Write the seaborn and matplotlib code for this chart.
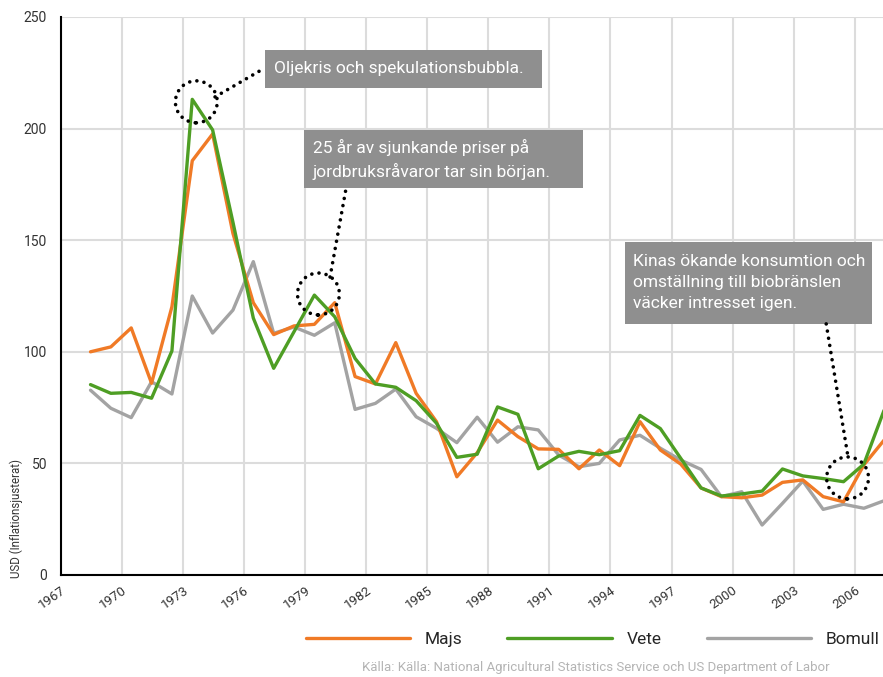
import numpy as np
import pandas as pd
import matplotlib
matplotlib.use('Agg')
import matplotlib.pyplot as plt
from matplotlib.patches import Ellipse, Rectangle
import seaborn as sns

# data (USD, inflation adjusted)
years = list(range(1968, 2008))
majs = [100, 102.2, 110.7, 85.9, 120.2, 185.6, 197.6, 153, 122, 107.7,
        111.6, 112.3, 122, 88.9, 85.6, 104.1, 81.4, 68.7, 44, 54.8,
        69.4, 62, 56.5, 56.3, 47.6, 56, 49, 68.7, 56, 49.7,
        39, 35.1, 34.6, 35.8, 41.5, 42.6, 35.1, 32.8, 49.3, 60.5]
vete = [85.3, 81.4, 81.8, 79.2, 100.4, 213.1, 199.4, 158, 115.1, 92.6,
        109, 125.4, 115.7, 97, 85.6, 84.1, 78.1, 68, 52.7, 54.1,
        75.3, 72, 47.6, 53.3, 55.4, 53.9, 55.7, 71.5, 65.6, 52.3,
        39, 35.4, 36.3, 37.6, 47.5, 44.4, 43.2, 41.8, 49.7, 74]
bomull = [82.8, 74.7, 70.5, 86.6, 81.1, 125, 108.4, 118.7, 140.4, 108.3,
          111.1, 107.4, 113, 74.2, 76.9, 83.3, 70.9, 65.7, 59.3, 70.7,
          59.5, 66.4, 65, 53.8, 48.5, 50, 60.5, 62.6, 56.8, 51.5,
          47.3, 35.1, 37.3, 22.4, 32.1, 42.1, 29.4, 31.7, 29.9, 33.3]
tick_years = list(range(1967, 2007, 3))

df = pd.DataFrame({'År': years, 'Majs': majs, 'Vete': vete, 'Bomull': bomull})
df = df.melt(id_vars='År', var_name='Gröda', value_name='USD')

colors = {'Majs': '#f07a26', 'Vete': '#4e9e24', 'Bomull': '#a3a3a3'}

sns.set_style('white')
plt.rcParams['font.family'] = ['Roboto', 'DejaVu Sans']

fig = plt.figure(figsize=(8.83, 6.77), dpi=100)
ax = fig.add_axes([61 / 883, 1 - 575 / 677, 1 - 61 / 883, 558 / 677])

# gray first, green on top
for name in ['Bomull', 'Majs', 'Vete']:
    sns.lineplot(data=df[df['Gröda'] == name], x='År', y='USD', color=colors[name],
                 lw=2.4, ax=ax, label=name, legend=False)

ax.set_xlim(1966.55, 2006.94)
ax.set_ylim(0, 250)
ax.set_xticks(np.array(tick_years) - 0.45)
ax.set_xticklabels([str(y) for y in tick_years], rotation=35, ha='right', va='top',
                   rotation_mode='anchor', fontsize=9.5, color='#333333')
ax.set_yticks([0, 50, 100, 150, 200, 250])
ax.tick_params(axis='y', labelsize=10, length=8, width=1.5, color='#dcdcdc', pad=2,
               labelcolor='#333333')
ax.tick_params(axis='x', length=0, pad=6)
ax.grid(True, color='#dcdcdc', lw=1.5)
ax.set_axisbelow(True)
ax.set_xlabel('')
ax.set_ylabel('')
for s in ['top', 'right']:
    ax.spines[s].set_visible(False)
for s in ['left', 'bottom']:
    ax.spines[s].set_color('black')
    ax.spines[s].set_linewidth(1.5)

fig.text(16 / 883, 0.146, 'USD (Inflationsjusterat)', rotation=90, ha='center',
         va='bottom', fontsize=8.3, color='#333333')

# annotations
box_col = '#8f8f8f'
dot = dict(color='black', lw=2.6, linestyle=(0, (0.01, 2.0)), dash_capstyle='round')

boxes = [
    (1976.57, 218.3, 13.62, 16.9, 1977.0, 226.8,
     'Oljekris och spekulationsbubbla.'),
    (1978.49, 173.4, 13.71, 26.0, 1978.93, 186.0,
     '25 år av sjunkande priser på\njordbruksråvaror tar sin början.'),
    (1994.27, 112.5, 12.13, 36.7, 1994.64, 131.0,
     'Kinas ökande konsumtion och\nomställning till biobränslen\nväcker intresset igen.'),
]
for x0, y0, w, h, tx, ty, txt in boxes:
    ax.add_patch(Rectangle((x0, y0), w, h, facecolor=box_col, edgecolor='none',
                           clip_on=False, zorder=5))
    ax.text(tx, ty, txt, color='white', fontsize=12.5, ha='left', va='center',
            linespacing=1.5, zorder=6, clip_on=False)

for cx, cy in [(1973.2, 212), (1979.2, 125.9), (2005.2, 43.5)]:
    ax.add_patch(Ellipse((cx, cy), 2.06, 18.8, fill=False, edgecolor='black', lw=2.6,
                         linestyle=(0, (0.01, 2.0)), capstyle='round', zorder=7,
                         clip_on=False))

ax.plot([1974.12, 1976.57], [214.2, 227.2], zorder=7, clip_on=False, **dot)
ax.plot([1979.77, 1980.56], [133.5, 173.4], zorder=7, clip_on=False, **dot)
ax.plot([2004.15, 2005.23], [112.5, 52.4], zorder=7, clip_on=False, **dot)

# legend
handles, labels = ax.get_legend_handles_labels()
order = [labels.index(n) for n in ['Majs', 'Vete', 'Bomull']]
fig.legend([handles[i] for i in order], [labels[i] for i in order],
           loc='center left', bbox_to_anchor=(290 / 883, 1 - 639 / 677), ncol=3,
           frameon=False, fontsize=12.5, handlelength=6.0, handletextpad=0.85,
           columnspacing=2.6)

fig.text(830 / 883, 1 - 668 / 677,
         'Källa: Källa: National Agricultural Statistics Service och US Department of Labor',
         ha='right', va='center', fontsize=9.5, color='#b4b4b4')

fig.savefig('out.png', dpi=100)
